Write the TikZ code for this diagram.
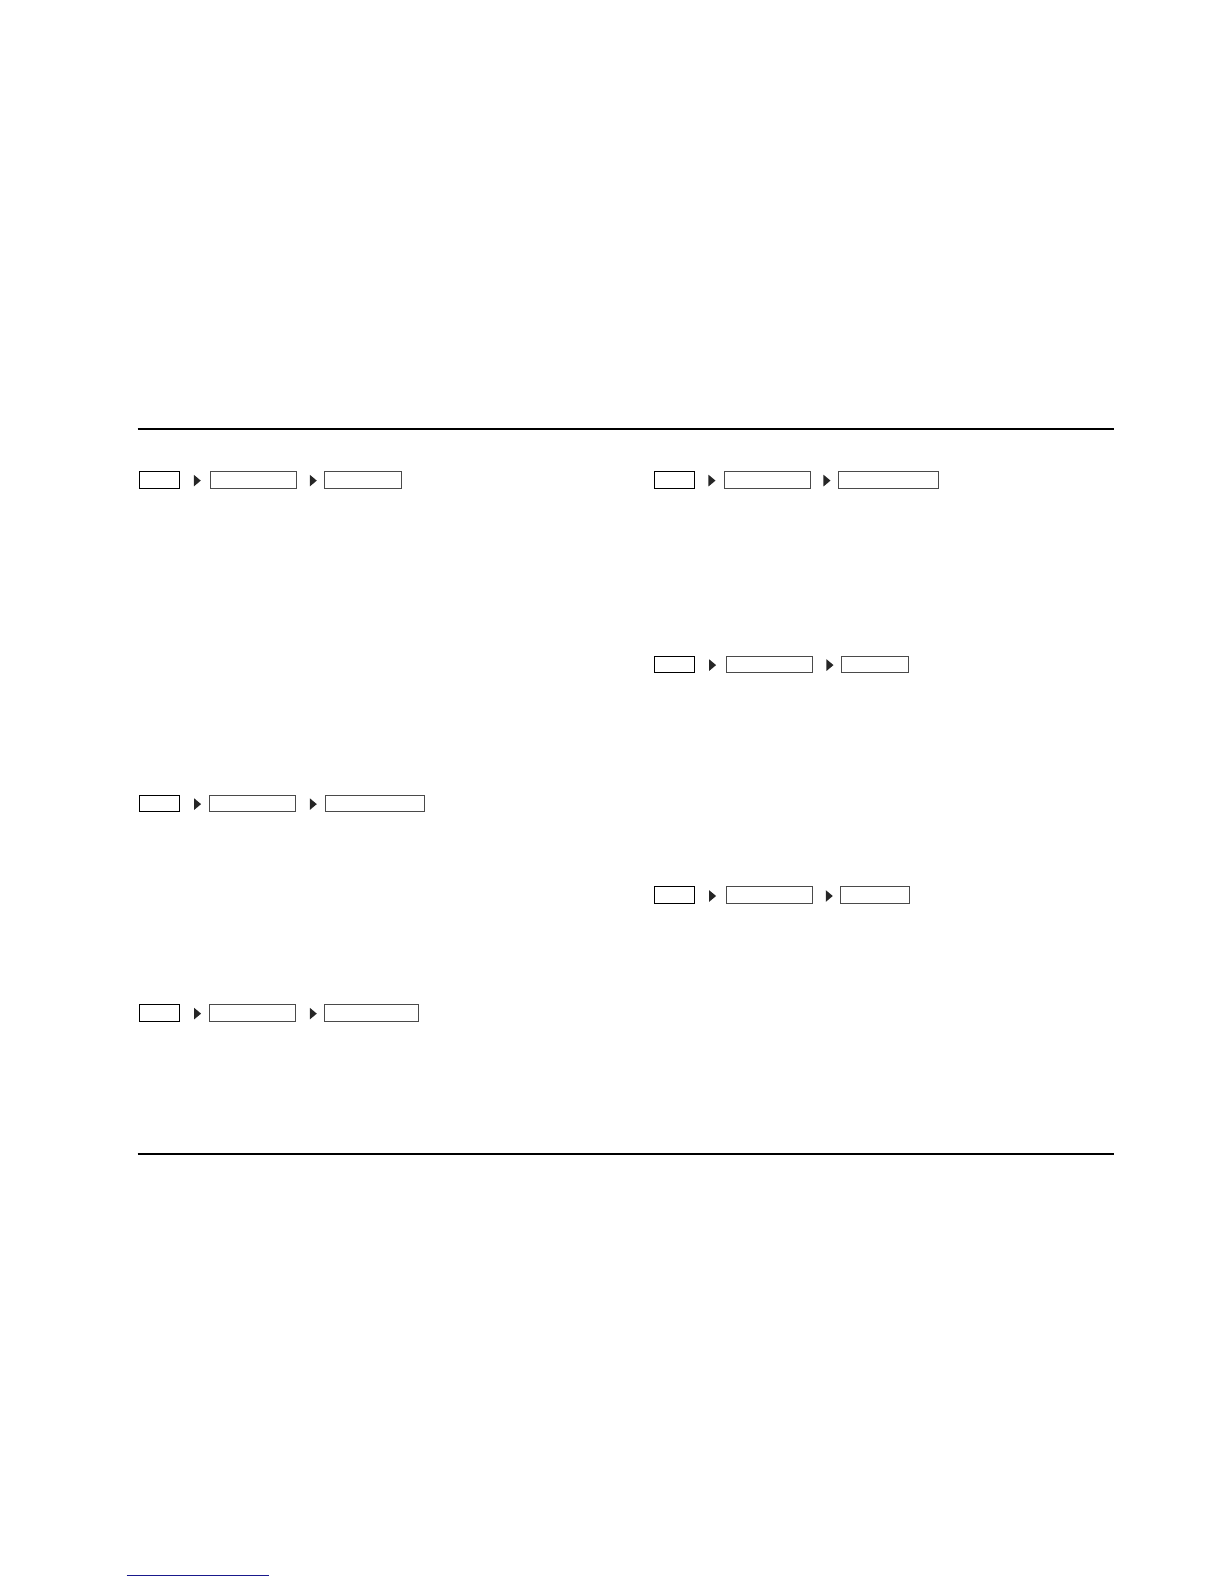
\documentclass[tikz,border=0pt]{standalone}
\usepackage{tikz}
\usetikzlibrary{shapes.geometric, positioning}
\definecolor{crumbgrey}{rgb}{0.29,0.29,0.29}
\definecolor{linknavy}{rgb}{0.10,0.10,0.55}

\begin{document}
\begin{tikzpicture}[
          x = 1pt, y = -1pt,
          inner sep = 0, outer sep = 0,
          rule/.style = {draw, line width = 1.1pt},
          crumbsep/.style = {isosceles triangle, isosceles triangle stretches,
            shape border rotate = 0, minimum width = 11.7pt, minimum height = 7pt,
            fill = black!85}
        ]
          \tikzstyle {first} = [draw = black, line width = 1pt, shape = rectangle,
            minimum width = 39.7pt, minimum height = 16.5pt, anchor = west]
          \tikzstyle {crumb} = [draw = crumbgrey, line width = 1pt, shape = rectangle,
            minimum height = 16.5pt, anchor = west]
          \useasboundingbox (0,0) rectangle (1224,1584);
          % page rules
          \path [rule] (137.5,429) -- (1113.7,429);
          \path [rule] (137.7,1154) -- (1114.3,1154);
          \draw [linknavy, line width = 1pt] (126.7,1575) -- (269,1575);
          % place breadcrumb rows
          \foreach \r/\y/\xa/\xb/\wb/\xc/\wc/\sa/\sb in {
              L1/479.8/139/210/86.7/324.3/77.4/193/309,
              R1/479.8/654/724/86.7/838.3/101/707.7/822.7,
              R2/664.3/654/726.3/86.4/841.3/68/708.3/825.7,
              L2/803.3/139/209/86.7/325/99.7/193.3/309,
              R3/895.2/654/726/86.7/840.3/69.7/708.3/825,
              L3/1012.8/139/209/86.7/324.3/95/193.3/309}
            {
              \path node (\r-1) [first] at (\xa+0.5,\y) {};
              \path node (\r-2) [crumb, minimum width = \wb pt - 1pt] at (\xb+0.5,\y) {};
              \path node (\r-3) [crumb, minimum width = \wc pt - 1pt] at (\xc+0.5,\y) {};
              \path node (\r-s1) [crumbsep] at (\sa+3.5,\y+0.8) {};
              \path node (\r-s2) [crumbsep] at (\sb+3.5,\y+0.8) {};
            } ;
        \end{tikzpicture}
\end{document}
